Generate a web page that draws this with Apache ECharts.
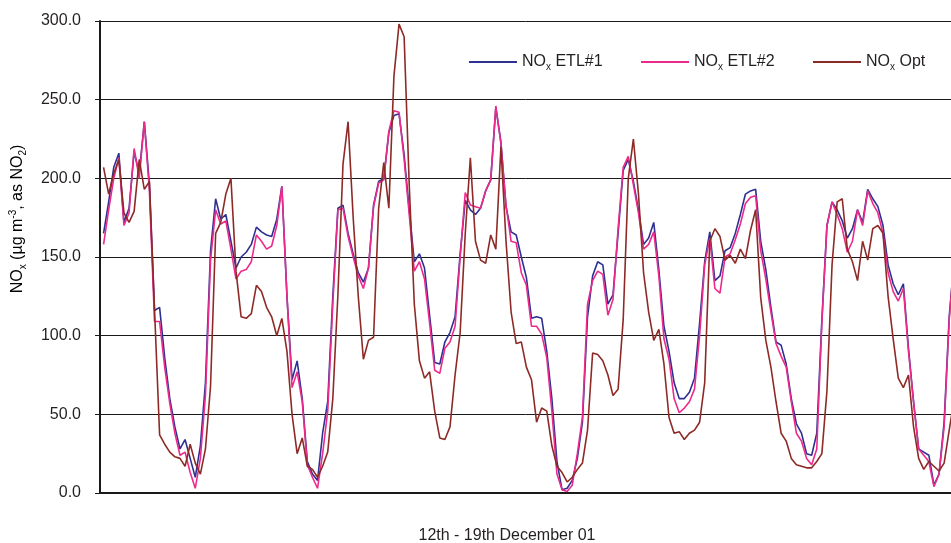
<!DOCTYPE html>
<html>
<head>
<meta charset="utf-8">
<script src="https://cdn.jsdelivr.net/npm/echarts@6/dist/echarts.min.js"></script>
<style>
html,body{margin:0;padding:0;background:#fff;}
#chart{width:951px;height:543px;}
</style>
</head>
<body>
<div id="chart"></div>
<script>
// Hourly readings, 12th - 19th December 01 (168 hours, index 0..167)
const seriesNames = ['NOx ETL#1', 'NOx ETL#2', 'NOx Opt'];

const etl1 = [
 165,185,207,216,172,181,217,203,236,196,116,118,86,60,42,28,34,22,10,30,70,154,187,174,
 177,160,143,150,153,158,169,166,164,163,174,195,125,72,84,60,20,12,8,38,58,125,181,183,
 165,152,140,134,143,183,198,200,229,240,241,215,180,147,152,143,113,83,82,96,102,112,152,186,
 180,177,181,192,199,245,223,182,166,164,150,137,111,112,111,90,60,20,2,3,8,22,45,112,
 138,147,145,120,126,165,205,212,198,180,158,162,172,142,106,90,70,60,60,64,73,108,147,166,
 135,138,154,156,165,177,190,192,193,160,142,118,96,94,82,60,44,38,25,24,38,110,170,185,
 180,173,162,168,180,172,193,187,182,170,145,133,126,133,92,58,28,26,24,5,12,45,112,150
];

const etl2 = [
 158,180,200,213,170,178,219,200,236,192,109,109,80,57,38,24,26,13,3,22,62,148,180,171,
 173,155,136,141,142,147,164,160,155,157,170,195,125,67,77,58,18,10,3,25,52,120,180,181,
 163,150,138,130,143,182,197,199,230,243,242,212,177,141,147,136,108,78,76,92,96,106,150,191,
 183,182,181,192,199,246,222,183,160,159,140,132,106,106,101,86,52,12,2,1,5,25,48,120,
 135,141,139,113,123,168,207,214,196,178,155,158,166,138,98,85,60,51,54,58,66,100,145,162,
 130,127,150,152,161,171,184,188,189,154,136,115,95,87,80,58,38,33,22,18,28,108,170,185,
 177,168,153,160,180,170,192,184,178,165,140,128,122,130,90,58,28,24,20,4,12,42,110,150
];

const opt = [
 207,190,203,212,178,172,179,212,193,198,117,37,31,26,23,22,17,31,19,12,28,68,165,172,
 190,200,141,112,111,114,132,128,118,112,100,111,90,50,25,35,17,15,10,17,26,60,126,209,
 236,175,125,85,97,99,181,210,181,265,298,290,196,120,84,73,77,52,35,34,42,75,102,165,
 213,160,148,146,164,155,220,160,115,95,96,80,72,45,54,52,30,17,13,7,10,15,19,40,
 89,88,84,75,62,66,110,200,225,190,140,115,97,104,82,48,38,39,34,38,40,45,70,160,
 168,163,148,151,146,155,149,167,180,124,97,80,58,38,33,22,18,17,16,16,20,25,65,145,
 185,187,155,147,135,160,148,168,170,165,125,98,73,67,75,42,22,15,20,17,14,19,40,60
];

const yTicks = [0, 50, 100, 150, 200, 250, 300];

const colors = ['#2e3192', '#ec2a8c', '#8e2a26'];
const values = [etl1, etl2, opt];

const FONT = '"Liberation Sans", Arial, Helvetica, sans-serif';
const TXT = '#231f20';
const rich = {
  n: { fontSize: 16, fontFamily: FONT, color: TXT, lineHeight: 20, verticalAlign: 'middle' },
  s: { fontSize: 10, fontFamily: FONT, color: TXT, lineHeight: 10, verticalAlign: 'bottom' },
  p: { fontSize: 10, fontFamily: FONT, color: TXT, lineHeight: 10, verticalAlign: 'top' }
};

const chart = echarts.init(document.getElementById('chart'), null, { renderer: 'canvas' });

const legendLefts = [469, 641, 813];

chart.setOption({
  backgroundColor: '#ffffff',
  animation: false,
  textStyle: { fontFamily: FONT },
  grid: { left: 100, top: 21, right: 0, height: 472, containLabel: false },
  legend: seriesNames.map(function (nm, i) {
    return {
      data: [nm], left: legendLefts[i], top: 54, padding: 0, icon: 'rect', itemWidth: 48, itemHeight: 2,
      selectedMode: false,
      formatter: function (name) { return '{n|NO}{s|x}{n|' + name.slice(3) + '}'; },
      textStyle: { rich: rich, fontSize: 16, color: TXT }
    };
  }),
  xAxis: {
    type: 'value', min: -0.7, max: 166.35,
    axisLine: { show: true, onZero: false, lineStyle: { color: '#1a1a1a', width: 2 } },
    axisTick: { show: false }, axisLabel: { show: false }, splitLine: { show: false }
  },
  yAxis: {
    type: 'value', min: yTicks[0], max: yTicks[yTicks.length - 1], interval: 50,
    axisLine: { show: true, onZero: false, lineStyle: { color: '#1a1a1a', width: 2 } },
    axisTick: { show: true, inside: false, length: 5, lineStyle: { color: '#1a1a1a', width: 1 } },
    axisLabel: { show: true, margin: 19, fontSize: 16, color: TXT, fontFamily: FONT,
      formatter: function (v) { return v.toFixed(1); } },
    splitLine: { show: true, lineStyle: { color: '#1a1a1a', width: 1 } }
  },
  series: seriesNames.map(function (nm, i) {
    return {
      name: nm, type: 'line', clip: true,
      data: values[i].map(function (v, k) { return [k, v]; }),
      symbol: 'none', smooth: false,
      lineStyle: { color: colors[i], width: 1.6 }, itemStyle: { color: colors[i] },
      emphasis: { disabled: true }
    };
  }),
  graphic: [
    {
      type: 'text', x: 18, y: 219, rotation: Math.PI / 2,
      style: {
        text: '{n|NO}{s|x}{n| (µg m}{p|-3}{n|, as NO}{s|2}{n|)}',
        rich: rich, align: 'center', verticalAlign: 'middle'
      }
    },
    {
      type: 'text', x: 507, y: 536,
      style: { text: '12th - 19th December 01', font: '16px ' + FONT, fill: TXT, align: 'center', verticalAlign: 'middle' }
    }
  ]
});
</script>
</body>
</html>
